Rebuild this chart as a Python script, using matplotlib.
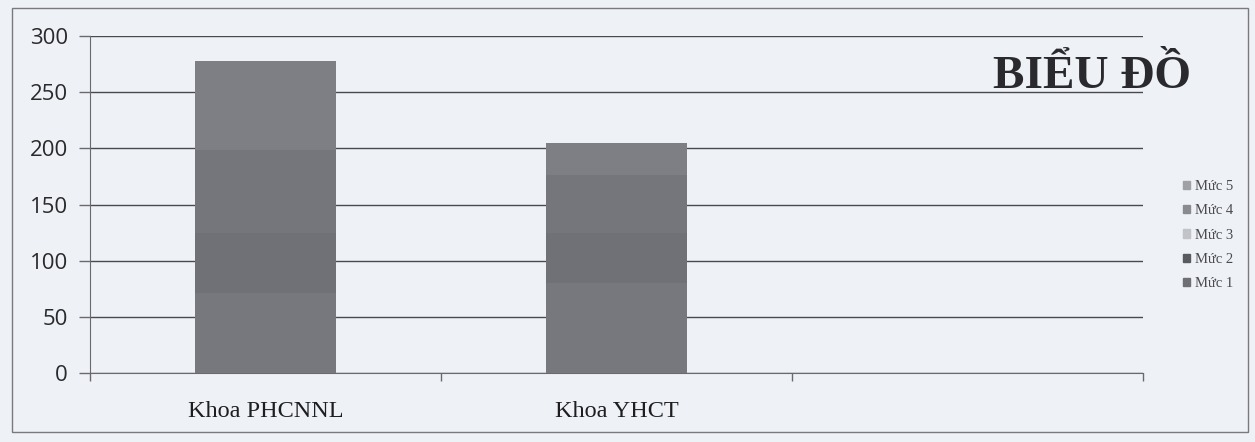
import matplotlib.pyplot as plt
from matplotlib.patches import Rectangle

categories = ["Khoa PHCNNL", "Khoa YHCT", ""]
levels = ["Mức 1", "Mức 2", "Mức 3", "Mức 4", "Mức 5"]
muc1 = [71, 80, 0]
muc2 = [54, 45, 0]
muc3 = [74, 51, 0]
muc4 = [79, 29, 0]
muc5 = [0, 0, 0]
series = [muc1, muc2, muc3, muc4, muc5]
colors = ["#77787d", "#707176", "#75767b", "#7e7f84", "#8a8b90"]
legend_colors = ["#6e6f74", "#5a5b60", "#c2c3c8", "#8a8b90", "#a0a1a6"]
yticks = [0, 50, 100, 150, 200, 250, 300]

paper = "#eef1f6"

fig = plt.figure(figsize=(12.55, 4.42), dpi=100, facecolor=paper)
ax = fig.add_axes([0.0717, 0.156, 0.839, 0.7624], facecolor=paper)

x = list(range(len(categories)))
bottom = [0] * len(categories)
for vals, c in zip(series, colors):
    ax.bar(x, vals, width=0.4, bottom=bottom, color=c, edgecolor="none", zorder=3)
    bottom = [b + v for b, v in zip(bottom, vals)]

ax.set_xlim(-0.5, 2.5)
ax.set_ylim(0, 300)
ax.set_yticks(yticks)
ax.set_yticklabels([str(t) for t in yticks], fontsize=16, family="Open Sans", color="#2a2a2c")
ax.yaxis.grid(True, color="#4a4a4e", linewidth=1.0, zorder=1)
ax.tick_params(axis="y", length=8, width=1, color="#6a6a6e", pad=8)

ax.set_xticks([-0.5, 0.5, 1.5, 2.5])
ax.set_xticklabels([])
ax.set_xticks(x, minor=True)
ax.set_xticklabels(categories, minor=True, fontsize=17.5, family="Liberation Serif", color="#1e1e20")
ax.tick_params(axis="x", which="major", length=6, width=1, color="#6a6a6e")
ax.tick_params(axis="x", which="minor", length=0, pad=20)

for side in ["top", "right"]:
    ax.spines[side].set_visible(False)
ax.spines["left"].set_color("#6a6a6e")
ax.spines["bottom"].set_color("#6a6a6e")

fig.text(0.870, 0.825, "BIỂU ĐỒ", fontsize=34, fontweight="bold",
         family="Liberation Serif", color="#2a2a2e", ha="center", va="center")

handles = [Rectangle((0, 0), 1, 1, color=c) for c in legend_colors]
leg = fig.legend(handles[::-1], levels[::-1], loc="center left",
                 bbox_to_anchor=(0.938, 0.468), frameon=False,
                 prop={"family": "Liberation Serif", "size": 10.5},
                 handlelength=0.5, handleheight=0.5, handletextpad=0.3,
                 labelspacing=0.78, borderaxespad=0)
for t in leg.get_texts():
    t.set_color("#4a4a4e")

fig.patches.append(Rectangle((12 / 1255, 1 - 432 / 442), 1236 / 1255, 424 / 442,
                             transform=fig.transFigure, fill=False,
                             edgecolor="#7a7a7e", linewidth=1.0))

fig.savefig("out.png", dpi=100, facecolor=paper)
